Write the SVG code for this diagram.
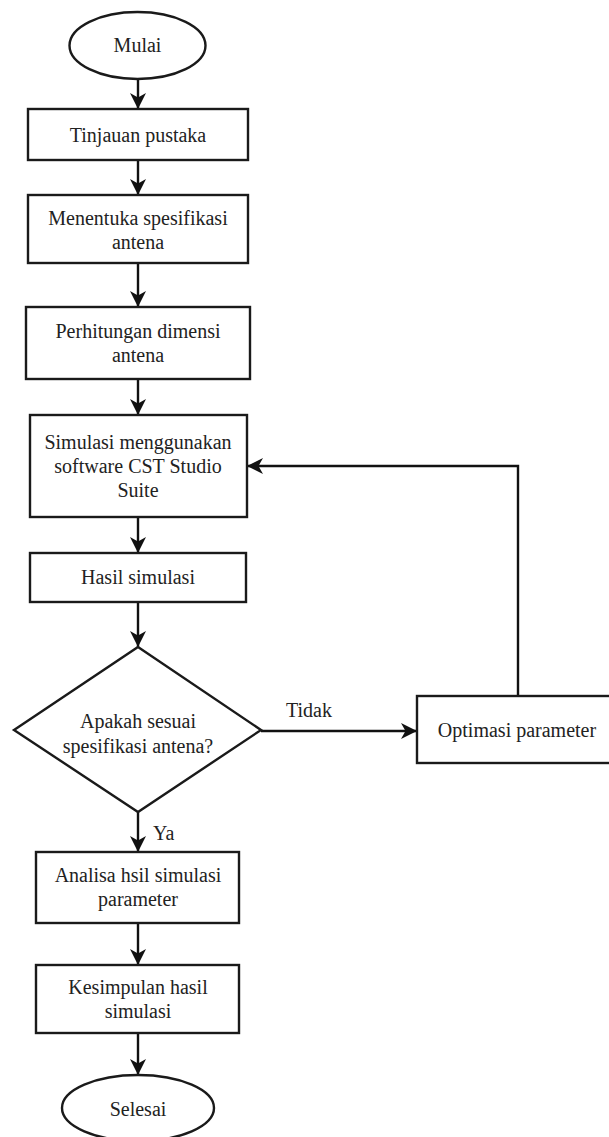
<svg xmlns="http://www.w3.org/2000/svg" width="609" height="1137" viewBox="0 0 609 1137">
  <style>
    .shape { fill: #ffffff; stroke: #1a1a1a; stroke-width: 2.4; }
    .conn { fill: none; stroke: #111111; stroke-width: 2.4; }
    .t { font-family: "Liberation Serif", "Times New Roman", serif; font-size: 20px; fill: #222222; text-anchor: middle; }
    .lbl { font-family: "Liberation Serif", "Times New Roman", serif; font-size: 20px; fill: #222222; }
  </style>
  <defs>
    <marker id="arrow" markerUnits="userSpaceOnUse" markerWidth="18" markerHeight="18" viewBox="-17 -9 18 18" refX="0" refY="0" orient="auto">
      <path d="M0,0 L-16,-8 L-11.5,0 L-16,8 Z" fill="#111111"/>
    </marker>
  </defs>

  <g id="connectors">
    <line class="conn" x1="138" y1="79" x2="138" y2="109" marker-end="url(#arrow)"/>
    <line class="conn" x1="138" y1="160" x2="138" y2="195" marker-end="url(#arrow)"/>
    <line class="conn" x1="138" y1="263" x2="138" y2="307" marker-end="url(#arrow)"/>
    <line class="conn" x1="138" y1="379" x2="138" y2="415" marker-end="url(#arrow)"/>
    <line class="conn" x1="138" y1="517" x2="138" y2="553" marker-end="url(#arrow)"/>
    <line class="conn" x1="138" y1="602" x2="138" y2="647" marker-end="url(#arrow)"/>
    <line class="conn" x1="261" y1="731" x2="417" y2="731" marker-end="url(#arrow)"/>
    <polyline class="conn" points="518,696 518,466 247,466" marker-end="url(#arrow)"/>
    <line class="conn" x1="138" y1="812" x2="138" y2="852" marker-end="url(#arrow)"/>
    <line class="conn" x1="138" y1="923" x2="138" y2="965" marker-end="url(#arrow)"/>
    <line class="conn" x1="138" y1="1033" x2="138" y2="1075" marker-end="url(#arrow)"/>
    <text class="lbl" x="286" y="717">Tidak</text>
    <text class="lbl" x="153" y="840">Ya</text>
  </g>

  <g id="mulai">
    <ellipse class="shape" cx="137.5" cy="45.5" rx="68" ry="33.5"/>
    <text class="t" x="137.5" y="52">Mulai</text>
  </g>

  <g id="tinjauan">
    <rect class="shape" x="28" y="109" width="220" height="51"/>
    <text class="t" x="138" y="142">Tinjauan pustaka</text>
  </g>

  <g id="menentuka">
    <rect class="shape" x="28" y="195" width="220" height="68"/>
    <text class="t" x="138" y="225">Menentuka spesifikasi</text>
    <text class="t" x="138" y="249">antena</text>
  </g>

  <g id="perhitungan">
    <rect class="shape" x="26" y="307" width="224" height="72"/>
    <text class="t" x="138" y="338">Perhitungan dimensi</text>
    <text class="t" x="138" y="362">antena</text>
  </g>

  <g id="simulasi">
    <rect class="shape" x="30" y="415" width="217" height="102"/>
    <text class="t" x="138" y="449">Simulasi menggunakan</text>
    <text class="t" x="138" y="473">software CST Studio</text>
    <text class="t" x="138" y="497">Suite</text>
  </g>

  <g id="hasil">
    <rect class="shape" x="30" y="553" width="216" height="49"/>
    <text class="t" x="138" y="584">Hasil simulasi</text>
  </g>

  <g id="keputusan">
    <polygon class="shape" points="138,647 261,730 138,812 14,730"/>
    <text class="t" x="138" y="728">Apakah sesuai</text>
    <text class="t" x="138" y="753">spesifikasi antena?</text>
  </g>

  <g id="optimasi">
    <rect class="shape" x="417" y="696" width="200" height="67"/>
    <text class="t" x="517" y="737">Optimasi parameter</text>
  </g>

  <g id="analisa">
    <rect class="shape" x="36" y="852" width="203" height="71"/>
    <text class="t" x="138" y="882">Analisa hsil simulasi</text>
    <text class="t" x="138" y="906">parameter</text>
  </g>

  <g id="kesimpulan">
    <rect class="shape" x="36" y="965" width="203" height="68"/>
    <text class="t" x="138" y="994">Kesimpulan hasil</text>
    <text class="t" x="138" y="1018">simulasi</text>
  </g>

  <g id="selesai">
    <ellipse class="shape" cx="138" cy="1108" rx="76" ry="33"/>
    <text class="t" x="138" y="1116">Selesai</text>
  </g>
</svg>
